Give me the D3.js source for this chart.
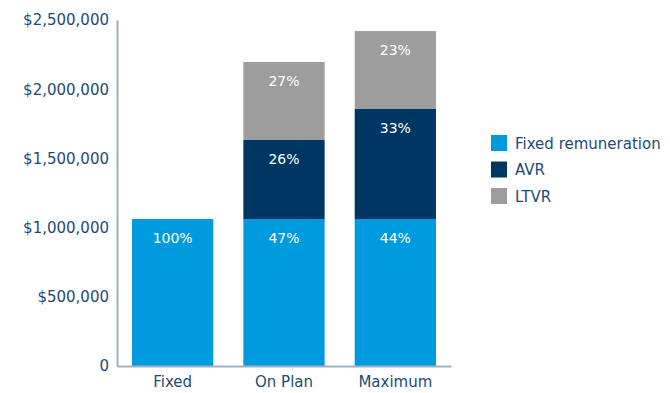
<!DOCTYPE html>
<html>
<head>
<meta charset="utf-8">
<script src="https://cdn.jsdelivr.net/npm/d3@7"></script>
<style>
  body { margin: 0; background: #fff; }
  text { font-family: "DejaVu Sans", sans-serif; }
</style>
</head>
<body>
<div id="chart"></div>
<script>
// chart data
var categories = ["Fixed", "On Plan", "Maximum"];
var seriesNames = ["Fixed remuneration", "AVR", "LTVR"];
var fixedValues = [1062000, 1062000, 1062000];
var avrValues = [0, 571000, 795000];
var ltvrValues = [0, 564000, 563000];
var fixedLabels = ["100%", "47%", "44%"];
var avrLabels = ["", "26%", "33%"];
var ltvrLabels = ["", "27%", "23%"];
var yTicks = [0, 500000, 1000000, 1500000, 2000000, 2500000];
var colors = ["#009ADE", "#003663", "#9D9D9D"];

var margin = {top: 20, right: 219, bottom: 27, left: 117},
    width = 670 - margin.left - margin.right,
    height = 393 - margin.top - margin.bottom;

var svg = d3.select("#chart")
  .append("svg")
    .attr("width", 670)
    .attr("height", 393)
  .append("g")
    .attr("transform", "translate(" + margin.left + "," + margin.top + ")");

var rows = categories.map(function(c, i) {
  return {cat: c, fixed: fixedValues[i], avr: avrValues[i], ltvr: ltvrValues[i],
          labels: [fixedLabels[i], avrLabels[i], ltvrLabels[i]]};
});

var stack = d3.stack().keys(["fixed", "avr", "ltvr"]);
var stacked = stack(rows);

var x = d3.scaleBand()
  .domain(categories)
  .range([0, width])
  .paddingInner(0.27)
  .paddingOuter(0.135);

var y = d3.scaleLinear()
  .domain([0, 2500000])
  .range([height, 0]);

// Y axis
var yAxis = svg.append("g")
  .call(d3.axisLeft(y).tickValues(yTicks).tickSize(0).tickPadding(8)
    .tickFormat(function(d) { return d === 0 ? "0" : "$" + d3.format(",")(d); }));
yAxis.select(".domain").attr("stroke", "#9FB0C0").attr("stroke-width", 2);
yAxis.selectAll("text").attr("fill", "#1F4A74").style("font-size", "15px")
  .style("font-family", "DejaVu Sans, sans-serif");

// bars
var layers = svg.selectAll(".layer")
  .data(stacked)
  .enter().append("g")
    .attr("fill", function(d, i) { return colors[i]; });

layers.selectAll("rect")
  .data(function(d) { return d; })
  .enter().append("rect")
    .attr("x", function(d) { return x(d.data.cat); })
    .attr("y", function(d) { return y(d[1]); })
    .attr("height", function(d) { return y(d[0]) - y(d[1]); })
    .attr("width", x.bandwidth());

// percentage labels
layers.each(function(layer, li) {
  d3.select(this).selectAll("text")
    .data(layer.filter(function(d) { return d.data.labels[li] !== ""; }))
    .enter().append("text")
      .attr("x", function(d) { return x(d.data.cat) + x.bandwidth() / 2; })
      .attr("y", function(d) { return y(d[1]) + 24; })
      .attr("text-anchor", "middle")
      .attr("fill", "#fff")
      .style("font-size", "14px")
      .text(function(d) { return d.data.labels[li]; });
});

// X axis
var xAxis = svg.append("g")
  .attr("transform", "translate(0," + height + ")")
  .call(d3.axisBottom(x).tickSize(0).tickPadding(10));
xAxis.select(".domain").attr("stroke", "#9FB0C0").attr("stroke-width", 2);
xAxis.selectAll("text").attr("fill", "#1F4A74").style("font-size", "15px")
  .style("font-family", "DejaVu Sans, sans-serif");

// legend
var legend = svg.append("g")
  .attr("transform", "translate(" + (491 - margin.left) + "," + (135 - margin.top) + ")");

var items = legend.selectAll("g")
  .data(seriesNames)
  .enter().append("g")
    .attr("transform", function(d, i) { return "translate(0," + (i * 26.5) + ")"; });

items.append("rect")
  .attr("width", 16)
  .attr("height", 16)
  .attr("fill", function(d, i) { return colors[i]; });

items.append("text")
  .attr("x", 24)
  .attr("y", 13.5)
  .attr("fill", "#1F4A74")
  .style("font-size", "15px")
  .text(function(d) { return d; });
</script>
</body>
</html>
